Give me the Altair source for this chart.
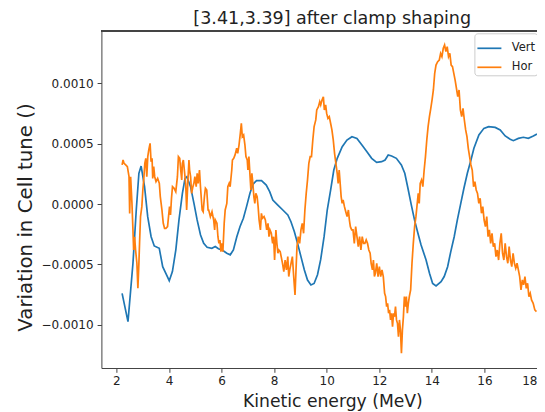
import altair as alt
import pandas as pd

# Vertical tune variation (units of 1e-4)
vert_e = [2.216, 2.44, 2.629, 2.755, 2.855, 2.94, 3.07, 3.19, 3.32, 3.44, 3.63, 3.76, 3.88, 4.01,
          4.13, 4.26, 4.38, 4.51, 4.61, 4.68, 4.82, 4.95, 5.07, 5.20, 5.32, 5.45, 5.63, 5.76,
          5.88, 6.01, 6.20, 6.33, 6.45, 6.58, 6.70, 6.83, 6.95, 7.08, 7.20, 7.33, 7.52, 7.70,
          7.83, 7.95, 8.14, 8.33, 8.52, 8.64, 8.77, 8.89, 9.02, 9.15, 9.27, 9.40, 9.52, 9.65,
          9.77, 9.90, 10.02, 10.15, 10.27, 10.40, 10.59, 10.77, 10.96, 11.15, 11.34, 11.53,
          11.71, 11.90, 12.09, 12.22, 12.34, 12.47, 12.65, 12.84, 12.97, 13.09, 13.22, 13.34,
          13.47, 13.59, 13.78, 13.91, 14.03, 14.16, 14.35, 14.47, 14.60, 14.72, 14.85, 14.97,
          15.10, 15.22, 15.35, 15.47, 15.60, 15.79, 15.98, 16.16, 16.41, 16.60, 16.79, 16.98,
          17.10, 17.29, 17.48, 17.67, 17.86, 18.0]
vert_v = [-7.39, -9.73, -4.9, -0.49, 2.55, 3.15, 1.44, -1.04, -2.70, -3.47, -3.66, -5.18, -5.73, -6.34,
          -5.59, -3.79, -1.31, 0.89, 2.13, 2.27, 1.44, 0.06, -1.31, -2.56, -3.25, -3.58, -3.66, -3.52,
          -3.70, -3.79, -4.07, -4.20, -3.79, -2.70, -1.87, -1.18, -0.21, 0.89, 1.66, 1.94, 1.94, 1.58,
          1.03, 0.34, -0.08, -0.49, -0.90, -1.46, -2.29, -3.25, -4.35, -5.46, -6.29, -6.70, -6.57, -5.85,
          -4.6, -2.7, -0.49, 1.17, 2.82, 3.79, 4.75, 5.30, 5.58, 5.44, 4.89, 4.34,
          3.79, 3.45, 3.51, 3.65, 4.06, 3.98, 3.79, 3.24, 2.55, 1.31, -0.08, -1.31,
          -2.42, -3.38, -4.63, -5.73, -6.57, -6.78, -6.43, -6.0, -5.18, -3.93, -2.70, -1.31,
          0.06, 1.31, 2.55, 3.51, 4.62, 5.72, 6.27, 6.41, 6.35, 6.14, 5.64, 5.37,
          5.25, 5.44, 5.53, 5.44, 5.64, 5.80]

# Horizontal tune variation (units of 1e-4)
hor_e = [2.216, 2.253, 2.291, 2.353, 2.416, 2.479, 2.504, 2.541, 2.591, 2.629, 2.654, 2.692, 2.729,
         2.779, 2.817, 2.855, 2.880, 2.917, 2.967, 3.005, 3.043, 3.080, 3.118, 3.155, 3.193, 3.231,
         3.281, 3.318, 3.356, 3.381, 3.419, 3.456, 3.506, 3.569, 3.632, 3.669, 3.732, 3.782, 3.832,
         3.882, 3.945, 3.982, 4.020, 4.058, 4.095, 4.133, 4.195, 4.258, 4.321, 4.358, 4.408, 4.446,
         4.484, 4.509, 4.546, 4.596, 4.634, 4.672, 4.709, 4.759, 4.784, 4.822, 4.860, 4.910, 4.947,
         4.985, 5.035, 5.072, 5.110, 5.160, 5.198, 5.261, 5.300, 5.348, 5.386, 5.436, 5.486,
         5.511, 5.574, 5.636, 5.699, 5.737, 5.762, 5.824, 5.862, 5.899, 5.937, 5.975, 6.012, 6.050,
         6.100, 6.138, 6.200, 6.238, 6.288, 6.326, 6.388, 6.413, 6.463, 6.513, 6.576, 6.614, 6.664,
         6.714, 6.752, 6.789, 6.839, 6.889, 6.927, 6.977, 7.002, 7.040, 7.077, 7.115, 7.153, 7.190,
         7.228, 7.265, 7.303, 7.353, 7.391, 7.428, 7.478, 7.516, 7.554, 7.616, 7.666, 7.717, 7.767,
         7.804, 7.842, 7.892, 7.942, 7.980, 8.017, 8.067, 8.105, 8.143, 8.180, 8.230, 8.268, 8.318,
         8.368, 8.418, 8.468, 8.519, 8.556, 8.594, 8.644, 8.694, 8.744, 8.794, 8.832, 8.869, 8.919,
         8.970, 9.020, 9.070, 9.120, 9.170, 9.220, 9.270, 9.320, 9.371, 9.421, 9.471, 9.521, 9.584,
         9.621, 9.685, 9.735, 9.772, 9.822, 9.873, 9.910, 9.960, 9.998, 10.048, 10.098, 10.148,
         10.198, 10.249, 10.299, 10.349, 10.399, 10.436, 10.474, 10.512, 10.549, 10.587, 10.624,
         10.675, 10.725, 10.775, 10.825, 10.863, 10.900, 10.950, 11.000, 11.050, 11.101, 11.151,
         11.201, 11.251, 11.301, 11.351, 11.401, 11.452, 11.502, 11.552, 11.602, 11.652, 11.690,
         11.740, 11.777, 11.815, 11.852, 11.903, 11.953, 12.003, 12.053, 12.103, 12.153, 12.203,
         12.241, 12.279, 12.316, 12.354, 12.391, 12.429, 12.467, 12.504, 12.542, 12.579, 12.617,
         12.655, 12.692, 12.730, 12.767, 12.805, 12.843, 12.880, 12.918, 12.955, 12.993, 13.030,
         13.068, 13.106, 13.143, 13.193, 13.244, 13.294, 13.344, 13.394, 13.444, 13.482, 13.519,
         13.557, 13.607, 13.657, 13.707, 13.757, 13.807, 13.857, 13.908, 13.958, 14.008, 14.058,
         14.108, 14.158, 14.221, 14.283, 14.333, 14.383, 14.434, 14.484, 14.534, 14.584, 14.634,
         14.684, 14.734, 14.785, 14.835, 14.885, 14.935, 14.985, 15.035, 15.085, 15.135, 15.185,
         15.236, 15.286, 15.336, 15.386, 15.436, 15.486, 15.536, 15.587, 15.637, 15.687, 15.737,
         15.787, 15.837, 15.887, 15.938, 15.988, 16.038, 16.088, 16.138, 16.188, 16.238, 16.288,
         16.338, 16.389, 16.439, 16.489, 16.539, 16.589, 16.639, 16.689, 16.739, 16.789, 16.840,
         16.890, 16.940, 16.990, 17.040, 17.090, 17.140, 17.191, 17.241, 17.291, 17.341, 17.391,
         17.441, 17.491, 17.541, 17.592, 17.642, 17.692, 17.742, 17.792, 17.855, 17.917, 17.980]
hor_v = [3.24, 3.65, 3.37, 3.24, 3.10, 2.27, -0.77, 2.27, 0.06, -2.14, -3.80, -2.70, -3.80,
         -4.90, -6.97, -4.90, -3.25, -1.04, -0.21, 1.17, 2.13, 3.37, 3.79, 2.27, 3.93, 4.48,
         5.03, 3.51, 3.79, 2.13, 3.10, 2.27, 1.86, 2.13, 1.72, 0.62, -0.49, -1.59, -2.01,
         -2.01, -1.87, -1.04, -0.21, -0.90, 0.48, 1.44, 1.31, 1.03, 2.27, 3.93, 3.79, 2.82,
         2.00, 3.37, 3.65, 2.55, 1.72, -0.49, 1.44, 3.65, 2.82, 2.27, 0.89, 1.44, 1.72,
         2.27, 1.44, 2.55, 1.72, 2.82, 1.44, -0.49, -0.63, 0.62, 1.31, 1.17, -0.49,
         -0.49, -1.04, -0.63, -1.32, -2.14, -1.32, -1.59, -2.70, -3.25, -2.97, -3.94, -3.25, -3.94,
         -1.59, -0.49, 0.06, 1.44, 1.72, 1.44, 2.82, 3.65, 3.79, 4.07, 4.62, 4.20, 4.89,
         5.86, 6.69, 5.58, 5.72, 4.89, 3.93, 3.65, 2.82, 3.93, 2.55, 1.17, 2.55, 1.72,
         0.62, 0.06, 0.89, 0.62, -0.21, -1.32, -2.14, -0.77, -1.18, -1.04, -1.32, -2.14, -1.59,
         -2.70, -2.14, -2.42, -3.25, -2.70, -4.63, -2.14, -3.25, -4.07, -3.80, -3.94, -4.35, -4.90,
         -5.59, -4.63, -5.45, -4.35, -6.0, -5.45, -4.90, -4.35, -6.0, -7.52, -5.45, -3.52, -2.70,
         -3.25, -2.14, -1.59, -2.42, -0.49, 0.89, 2.0, 3.37, 3.93, 3.93, 5.31, 6.41, 6.97,
         7.79, 8.07, 8.48, 8.21, 8.62, 8.89, 7.79, 8.21, 7.51, 7.10, 7.24, 6.69,
         6.14, 5.31, 4.20, 3.37, 2.55, 1.72, 2.82, 1.72, 0.62, 0.06, 0.34,
         -0.21, -0.63, -1.04, -0.49, -1.32, -1.87, -2.14, -2.14, -3.25, -1.87, -2.70,
         -3.52, -2.70, -3.80, -2.70, -3.25, -3.25, -2.97, -3.25, -3.80, -4.07, -4.90,
         -5.45, -4.63, -6.0, -5.73, -4.90, -6.0, -5.18, -6.0, -5.45, -6.0, -7.39,
         -7.66, -8.49, -8.21, -9.04, -8.76, -9.59, -9.04, -10.14, -9.04, -9.32, -8.49,
         -9.59, -9.87, -10.97, -9.59, -10.42, -12.35, -10.42, -9.32, -7.66, -8.49, -7.66,
         -9.04, -8.21, -7.66, -7.11, -4.90, -3.25, -1.87, -1.04, 0.06, 0.89, 0.06,
         1.72, 2.0, 1.44, 2.82, 3.93, 5.31, 6.41, 7.24, 7.9, 8.62, 9.45,
         10.82, 11.51, 11.79, 11.93, 12.48, 12.21, 12.90, 13.17, 12.62, 13.03, 12.21,
         12.48, 11.51, 11.38, 10.82, 10.27, 9.59, 8.89, 9.45, 7.79, 7.24, 7.93,
         6.96, 6.14, 5.58, 4.62, 3.93, 3.24, 2.82, 1.44, 1.86, 1.17, 0.89,
         0.06, 0.48, -0.76, -0.21, -1.32, -1.87, -1.04, -2.70, -2.14, -3.25, -2.42,
         -3.52, -3.25, -4.35, -3.80, -4.63, -3.25, -2.42, -4.07, -4.63, -3.25, -4.35,
         -4.90, -3.52, -4.63, -5.18, -4.07, -4.90, -5.31, -4.90, -5.45, -6.0, -7.10,
         -6.28, -6.69, -6.0, -6.97, -6.56, -7.66, -7.38, -7.93, -8.21, -8.76, -8.90]

series_names = ["Vert", "Hor"]
series_colors = ["#1f77b4", "#ff7f0e"]
x_ticks = [2, 4, 6, 8, 10, 12, 14, 16, 18]
y_ticks = [-0.001, -0.0005, 0.0, 0.0005, 0.001]
SCALE = 1e-4

df = pd.concat([
    pd.DataFrame({"energy": vert_e, "tune": [v * SCALE for v in vert_v], "series": "Vert"}),
    pd.DataFrame({"energy": hor_e, "tune": [v * SCALE for v in hor_v], "series": "Hor"}),
], ignore_index=True)
df["order"] = range(len(df))

FONT = "DejaVu Sans"
W = 435.6
H = 337
SPINE = "#444444"

lines = alt.Chart(df).mark_line(strokeWidth=1.7, clip=True).encode(
    x=alt.X("energy:Q",
            scale=alt.Scale(domain=[1.4286, 18.0], nice=False, zero=False),
            axis=alt.Axis(values=x_ticks, title="Kinetic energy (MeV)", format="d",
                          titleX=231, titleY=38.5, titleAlign="center", titleBaseline="alphabetic",
                          titleFontSize=17.2, labelPadding=3, labelFlush=True)),
    y=alt.Y("tune:Q",
            scale=alt.Scale(domain=[-0.001357, 0.001433], nice=False, zero=False),
            axis=alt.Axis(values=y_ticks, title="Variation in Cell tune ()", format=".4f",
                          titleX=-76, titleY=186, titleAngle=270, titleAlign="center",
                          titleBaseline="middle", titleFontSize=19.8, labelPadding=4)),
    color=alt.Color("series:N",
                    scale=alt.Scale(domain=series_names, range=series_colors),
                    legend=alt.Legend(orient="none", legendX=373, legendY=2.3, title=None,
                                      symbolType="stroke", symbolSize=576, symbolStrokeWidth=1.7,
                                      labelFontSize=11.5, labelOffset=9.4, labelFont=FONT,
                                      labelColor="#222222",
                                      fillColor="white", strokeColor="#cccccc", cornerRadius=3,
                                      padding=2, rowPadding=-7)),
    detail="series:N",
    order="order:Q",
)

top_spine = alt.Chart(df).mark_rule(color=SPINE, strokeWidth=1).encode(
    x=alt.value(0), x2=alt.value(W), y=alt.value(0)
)

chart = alt.layer(lines, top_spine).properties(
    width=W,
    height=H,
    title=alt.TitleParams("[3.41,3.39] after clamp shaping", fontSize=17.5, font=FONT,
                          fontWeight="normal", color="#222222", anchor="middle", offset=3, dx=13),
    autosize=alt.AutoSizeParams(type="none"),
    padding={"left": 93.4, "top": 23, "right": 0, "bottom": 44},
).configure_axis(
    labelFont=FONT, titleFont=FONT, labelFontSize=12, labelColor="#222222",
    titleColor="#222222", titleFontWeight="normal", grid=False,
    domain=True, domainColor=SPINE, domainWidth=1,
    tickColor=SPINE, tickSize=4.3, tickWidth=1,
).configure_view(
    stroke=None,
)

chart.save("out.html", embed_options={"renderer": "svg", "actions": False})
